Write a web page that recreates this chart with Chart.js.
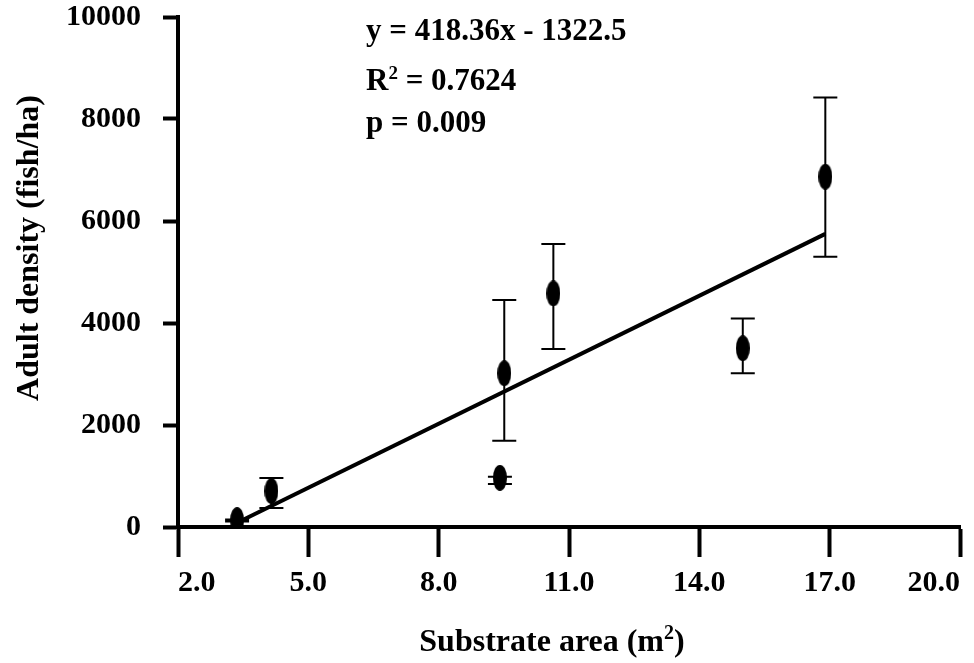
<!DOCTYPE html>
<html>
<head>
<meta charset="utf-8">
<script src="https://cdn.jsdelivr.net/npm/chart.js@4/dist/chart.umd.min.js"></script>
<style>
  html, body { margin: 0; padding: 0; background: #fff; }
  #chart { display: block; }
</style>
</head>
<body>
<canvas id="chart" width="974" height="663"></canvas>
<script>
// dados
const substrateArea = [3.36, 4.15, 9.41, 9.51, 10.64, 15.0, 16.9];
const adultDensity = [135, 705, 965, 3015, 4580, 3505, 6870];
const errLow = [110, 375, 845, 1690, 3490, 3015, 5300];
const errHigh = [145, 960, 985, 4450, 5550, 4090, 8420];

// regressão (equação do gráfico)
const slope = 418.36;
const intercept = -1322.5;

const xTicks = [2, 5, 8, 11, 14, 17, 20];
const yTicks = [0, 2000, 4000, 6000, 8000, 10000];

const FONT = "'Liberation Serif', 'Times New Roman', serif";

(function() {
  'use strict';

  // marcador elíptico
  function makeEllipse(w, h) {
    const c = document.createElement('canvas');
    c.width = w; c.height = h;
    const g = c.getContext('2d');
    g.fillStyle = '#000';
    g.beginPath();
    g.ellipse(w / 2, h / 2, w / 2, h / 2, 0, 0, Math.PI * 2);
    g.fill();
    return c;
  }
  const marker = makeEllipse(14, 26);

  const points = substrateArea.map((x, i) => ({ x: x, y: adultDensity[i] }));
  const xMin = Math.min.apply(null, substrateArea);
  const xMax = Math.max.apply(null, substrateArea);
  const fitLine = [xMin, xMax].map(x => ({ x: x, y: slope * x + intercept }));

  // barras de erro
  const errorBars = {
    id: 'errorBars',
    beforeDatasetsDraw(chart) {
      const ctx = chart.ctx;
      const xs = chart.scales.x, ys = chart.scales.y;
      ctx.save();
      ctx.strokeStyle = '#000';
      ctx.lineWidth = 2;
      substrateArea.forEach((x, i) => {
        const px = xs.getPixelForValue(x);
        const lo = ys.getPixelForValue(errLow[i]);
        const hi = ys.getPixelForValue(errHigh[i]);
        ctx.beginPath();
        ctx.moveTo(px, lo); ctx.lineTo(px, hi);
        ctx.moveTo(px - 12, lo); ctx.lineTo(px + 12, lo);
        ctx.moveTo(px - 12, hi); ctx.lineTo(px + 12, hi);
        ctx.stroke();
      });
      ctx.restore();
    }
  };

  // texto com expoente: partes [texto, sobrescrito?]
  function drawParts(ctx, parts, x, y, size) {
    let cx = x;
    parts.forEach(p => {
      const sup = p[1];
      ctx.font = 'bold ' + Math.round(sup ? size * 0.62 : size) + 'px ' + FONT;
      ctx.fillText(p[0], cx, sup ? y - size * 0.36 : y);
      cx += ctx.measureText(p[0]).width;
    });
  }
  function partsWidth(ctx, parts, size) {
    let w = 0;
    parts.forEach(p => {
      ctx.font = 'bold ' + Math.round(p[1] ? size * 0.62 : size) + 'px ' + FONT;
      w += ctx.measureText(p[0]).width;
    });
    return w;
  }

  // textos: equação e títulos dos eixos
  const texts = {
    id: 'texts',
    afterDraw(chart) {
      const ctx = chart.ctx;
      const area = chart.chartArea;
      ctx.save();
      ctx.fillStyle = '#000';
      ctx.textBaseline = 'alphabetic';
      ctx.textAlign = 'left';
      drawParts(ctx, [['y = 418.36x - 1322.5']], 366, 40, 31);
      drawParts(ctx, [['R'], ['2', true], [' = 0.7624']], 366, 90, 31);
      drawParts(ctx, [['p = 0.009']], 366, 132, 31);

      const xt = [['Substrate area (m'], ['2', true], [')']];
      const w = partsWidth(ctx, xt, 32);
      drawParts(ctx, xt, area.left + 374 - w / 2, 651, 32);

      ctx.translate(30, 248);
      ctx.rotate(-Math.PI / 2);
      ctx.textAlign = 'center';
      ctx.textBaseline = 'middle';
      ctx.font = 'bold 32px ' + FONT;
      ctx.fillText('Adult density (fish/ha)', 0, 0);
      ctx.restore();
    }
  };

  new Chart(document.getElementById('chart'), {
    type: 'scatter',
    data: {
      datasets: [{
        data: points,
        pointStyle: marker,
        pointRadius: 8,
        pointHoverRadius: 8
      }, {
        type: 'line',
        data: fitLine,
        borderColor: '#000',
        borderWidth: 4,
        pointRadius: 0,
        fill: false
      }]
    },
    options: {
      responsive: false,
      animation: false,
      devicePixelRatio: 1,
      layout: { padding: { top: 17, right: 14, left: 0, bottom: 0 } },
      plugins: {
        legend: { display: false },
        tooltip: { enabled: false }
      },
      scales: {
        x: {
          type: 'linear',
          min: xTicks[0],
          max: xTicks[xTicks.length - 1],
          afterFit(s) { s.height = 136; s.paddingLeft = 0; s.paddingRight = 0; },
          afterBuildTicks(s) { s.ticks = xTicks.map(v => ({ value: v })); },
          border: { color: '#000', width: 4 },
          grid: { drawOnChartArea: false, drawTicks: true, tickLength: 30, tickWidth: 4, tickColor: '#000' },
          ticks: {
            align: 'inner',
            maxRotation: 0,
            autoSkip: false,
            padding: 8,
            color: '#000',
            font: { family: FONT, size: 30, weight: 'bold' },
            callback: v => v.toFixed(1)
          }
        },
        y: {
          min: yTicks[0],
          max: yTicks[yTicks.length - 1],
          afterFit(s) { s.width = 178; s.paddingTop = 0; s.paddingBottom = 0; },
          afterBuildTicks(s) { s.ticks = yTicks.map(v => ({ value: v })); },
          border: { color: '#000', width: 4 },
          grid: { drawOnChartArea: false, drawTicks: true, tickLength: 15, tickWidth: 4, tickColor: '#000' },
          ticks: {
            padding: 22,
            color: '#000',
            font: { family: FONT, size: 30, weight: 'bold' },
            callback: v => String(v)
          }
        }
      }
    },
    plugins: [errorBars, texts]
  });
})();
</script>
</body>
</html>
